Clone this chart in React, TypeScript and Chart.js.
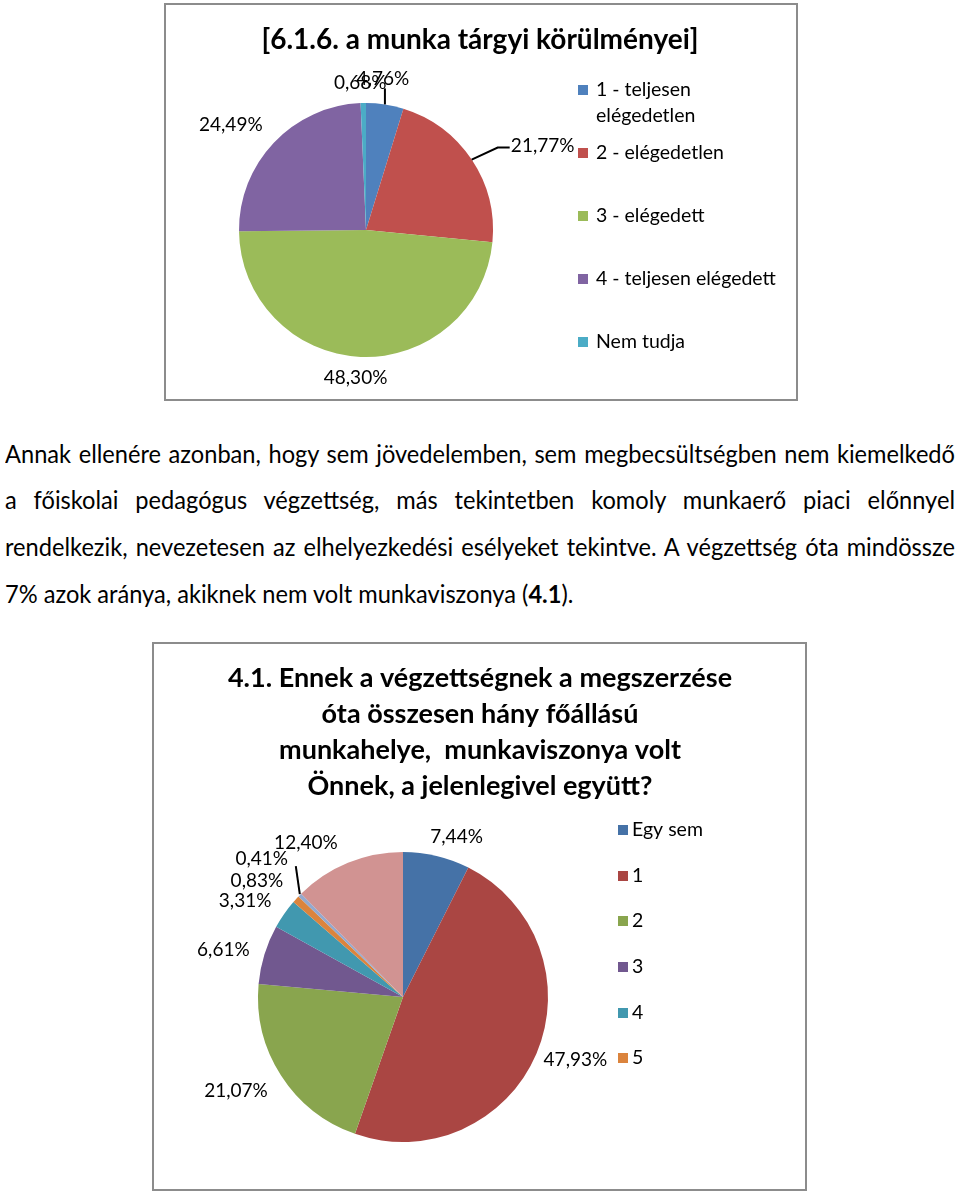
import React, { useEffect, useRef } from 'react';
import { Chart, registerables } from 'chart.js';

Chart.register(...registerables);

// ---------- Chart 1 data ----------
const chart1TitleLines = ['[6.1.6. a munka tárgyi körülményei]'];
const chart1Categories = ['1 - teljesen elégedetlen', '2 - elégedetlen', '3 - elégedett', '4 - teljesen elégedett', 'Nem tudja'];
const chart1Values = [4.76, 21.77, 48.3, 24.49, 0.68];
const chart1Colors = ['#4F81BD', '#C0504D', '#9BBB59', '#8064A2', '#4BACC6'];

// ---------- Chart 2 data ----------
const chart2TitleLines = [
  '4.1. Ennek a végzettségnek a megszerzése',
  'óta összesen hány főállású',
  'munkahelye,  munkaviszonya volt',
  'Önnek, a jelenlegivel együtt?',
];
const chart2Categories = ['Egy sem', '1', '2', '3', '4', '5', '6', '7'];
const chart2Values = [7.44, 47.93, 21.07, 6.61, 3.31, 0.83, 0.41, 12.4];
const chart2Colors = ['#4572A7', '#AA4643', '#89A54E', '#71588F', '#4198AF', '#DB843D', '#93A9CF', '#D19392'];
const chart2LegendShown = 6;

// ---------- Paragraph text ----------
const paragraphLines = [
  'Annak ellenére azonban, hogy sem jövedelemben, sem megbecsültségben nem kiemelkedő',
  'a főiskolai pedagógus végzettség, más tekintetben komoly munkaerő piaci előnnyel',
  'rendelkezik, nevezetesen az elhelyezkedési esélyeket tekintve. A végzettség óta mindössze',
];
const lastLineBefore = '7% azok aránya, akiknek nem volt munkaviszonya (';
const lastLineBold = '4.1';
const lastLineAfter = ').';

const FONT = 'Lato, "Open Sans", sans-serif';

const fmt = (v: number) => v.toFixed(2).replace('.', ',') + '%';

const decorPlugin = {
  id: 'decor',
  afterDraw(chart: any, _args: any, opts: any) {
    const ctx = chart.ctx as CanvasRenderingContext2D;
    ctx.save();
    ctx.fillStyle = '#000';
    ctx.textAlign = 'center';
    ctx.textBaseline = 'middle';
    // title
    ctx.font = opts.titleFont;
    opts.titleLines.forEach((t: string, i: number) => {
      ctx.fillText(t, opts.titleX, opts.titleY + i * opts.titleLineH);
    });
    // data labels
    const meta = chart.getDatasetMeta(0);
    const values = chart.data.datasets[0].data as number[];
    ctx.font = opts.labelFont;
    meta.data.forEach((arc: any, i: number) => {
      const { x, y, startAngle, endAngle, outerRadius } = arc;
      const mid = (startAngle + endAngle) / 2;
      const ex = x + Math.cos(mid) * outerRadius;
      const ey = y + Math.sin(mid) * outerRadius;
      const lead = opts.leaders[i];
      if (lead) {
        ctx.beginPath();
        ctx.moveTo(ex + lead[0][0], ey + lead[0][1]);
        for (let k = 1; k < lead.length; k++) ctx.lineTo(ex + lead[k][0], ey + lead[k][1]);
        ctx.strokeStyle = '#000';
        ctx.lineWidth = 2;
        ctx.stroke();
      }
      const off = opts.labelOffsets[i];
      ctx.fillText(fmt(values[i]), ex + off[0], ey + off[1]);
    });
    // legend
    ctx.textAlign = 'left';
    ctx.font = opts.legendFont;
    const labels = chart.data.labels as string[];
    const colors = chart.data.datasets[0].backgroundColor as string[];
    for (let i = 0; i < opts.legendCount; i++) {
      const y0 = opts.legendY[i];
      ctx.fillStyle = colors[i];
      ctx.fillRect(opts.legendBoxX, y0 - 5, 10, 10);
      ctx.fillStyle = '#000';
      const words = labels[i].split(' ');
      const lines: string[] = [];
      let cur = '';
      words.forEach((w) => {
        const test = cur ? cur + ' ' + w : w;
        if (cur && ctx.measureText(test).width > opts.legendMaxW) {
          lines.push(cur);
          cur = w;
        } else cur = test;
      });
      if (cur) lines.push(cur);
      lines.forEach((ln, k) => ctx.fillText(ln, opts.legendTextX, y0 + k * opts.legendLineH));
    }
    ctx.restore();
  },
};

function makeConfig(labels: string[], values: number[], colors: string[], padding: any, decor: any): any {
  return {
    type: 'pie',
    data: {
      labels,
      datasets: [{ data: values, backgroundColor: colors, borderWidth: 0 }],
    },
    options: {
      responsive: false,
      animation: false,
      devicePixelRatio: 1,
      layout: { padding },
      plugins: {
        legend: { display: false },
        title: { display: false },
        tooltip: { enabled: false },
        decor,
      },
    },
    plugins: [decorPlugin],
  };
}

function PieBox({ left, top, width, height, config }: any) {
  const ref = useRef<HTMLCanvasElement>(null);
  useEffect(() => {
    const chart = new Chart(ref.current as HTMLCanvasElement, config);
    return () => chart.destroy();
  }, []);
  return (
    <div style={{ position: 'absolute', left, top, width, height, background: '#fff' }}>
      <canvas ref={ref} width={width} height={height} style={{ position: 'absolute', left: 0, top: 0, width, height }} />
      <div
        style={{
          position: 'absolute',
          left: 0,
          top: 0,
          width,
          height,
          boxSizing: 'border-box',
          border: '2px solid #8c8c8c',
          pointerEvents: 'none',
        }}
      />
    </div>
  );
}

export default function App() {
  const config1 = makeConfig(
    chart1Categories,
    chart1Values,
    chart1Colors,
    { left: 75, right: 305, top: 100, bottom: 44 },
    {
      titleLines: chart1TitleLines,
      titleFont: `bold 28px ${FONT}`,
      titleX: 316,
      titleY: 37,
      titleLineH: 36,
      labelFont: `19px ${FONT}`,
      labelOffsets: [
        [-2, -26],
        [71, -14],
        [-5, 21],
        [-43, -18],
        [-3, -20],
      ],
      leaders: [
        [
          [0, 0],
          [0, -16],
        ],
        [
          [0, 0],
          [26, -12],
          [38, -12],
        ],
        null,
        null,
        null,
      ],
      legendFont: `19.5px ${FONT}`,
      legendCount: chart1Categories.length,
      legendBoxX: 414,
      legendTextX: 432,
      legendMaxW: 190,
      legendLineH: 26,
      legendY: [87, 150, 213, 276, 339],
    }
  );

  const config2 = makeConfig(
    chart2Categories,
    chart2Values,
    chart2Colors,
    { left: 106, right: 259, top: 210, bottom: 49 },
    {
      titleLines: chart2TitleLines,
      titleFont: `bold 27px ${FONT}`,
      titleX: 328,
      titleY: 36,
      titleLineH: 36,
      labelFont: `19px ${FONT}`,
      labelOffsets: [
        [20, -19],
        [39, 6],
        [-45, 15],
        [-41, -5],
        [-39, -13],
        [-39, -18],
        [-38, -36],
        [-42, -20],
      ],
      leaders: [
        null,
        null,
        null,
        null,
        null,
        null,
        [
          [0, -1],
          [-4, -29],
        ],
        null,
      ],
      legendFont: `19.5px ${FONT}`,
      legendCount: chart2LegendShown,
      legendBoxX: 466,
      legendTextX: 480,
      legendMaxW: 160,
      legendLineH: 26,
      legendY: [188, 234, 279, 325, 371, 416],
    }
  );

  const lineTops = [437, 483, 530, 577];
  const scale = 0.945;
  const textStyle: any = {
    position: 'absolute',
    left: 5,
    fontFamily: FONT,
    fontSize: 25,
    lineHeight: '32px',
    color: '#000',
    whiteSpace: 'nowrap',
    transformOrigin: 'left top',
  };

  return (
    <div style={{ position: 'absolute', left: 0, top: 0, width: 960, height: 1194, background: '#fff', overflow: 'hidden' }}>
      <PieBox left={164} top={3} width={634} height={398} config={config1} />
      {paragraphLines.map((ln, i) => (
        <div
          key={i}
          style={{
            ...textStyle,
            top: lineTops[i],
            width: 950 / scale,
            textAlign: 'justify',
            textAlignLast: 'justify',
            transform: `scaleX(${scale})`,
          }}
        >
          {ln}
        </div>
      ))}
      <div style={{ ...textStyle, top: lineTops[3], transform: `scaleX(${scale})` }}>
        {lastLineBefore}
        <b>{lastLineBold}</b>
        {lastLineAfter}
      </div>
      <PieBox left={152} top={642} width={655} height={549} config={config2} />
    </div>
  );
}
